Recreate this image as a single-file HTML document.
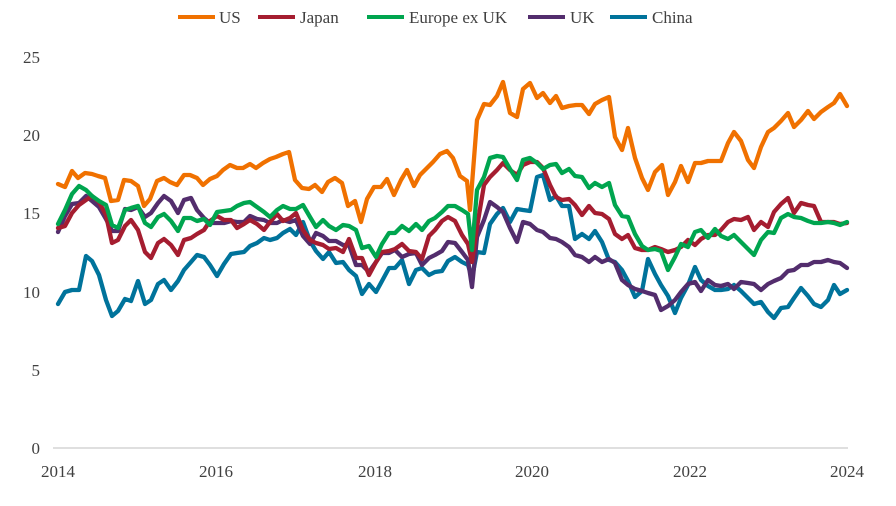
<!DOCTYPE html>
<html><head><meta charset="utf-8"><style>
body{margin:0;background:#fff}
svg text{font-family:"Liberation Serif","DejaVu Serif",serif;font-size:17px;fill:#404040}
polyline{fill:none;stroke-width:4.3;stroke-linejoin:round;stroke-linecap:round}
</style></head><body>
<svg width="896" height="501" viewBox="0 0 896 501" xmlns="http://www.w3.org/2000/svg">
<g>
<line x1="178" y1="17" x2="215" y2="17" stroke="#F07100" stroke-width="4"/><text x="219" y="23">US</text>
<line x1="258" y1="17" x2="295" y2="17" stroke="#A51D30" stroke-width="4"/><text x="300" y="23">Japan</text>
<line x1="367" y1="17" x2="404" y2="17" stroke="#00A54F" stroke-width="4"/><text x="409" y="23">Europe ex UK</text>
<line x1="528" y1="17" x2="565" y2="17" stroke="#532D6D" stroke-width="4"/><text x="570" y="23">UK</text>
<line x1="610" y1="17" x2="647" y2="17" stroke="#00739B" stroke-width="4"/><text x="652" y="23">China</text>
</g>
<g text-anchor="end">
<text x="40" y="454">0</text><text x="40" y="376">5</text><text x="40" y="298">10</text>
<text x="40" y="219">15</text><text x="40" y="141">20</text><text x="40" y="63">25</text>
</g>
<line x1="53" y1="448" x2="848" y2="448" stroke="#bfbfbf" stroke-width="1"/>
<g text-anchor="middle">
<text x="58" y="477">2014</text><text x="216" y="477">2016</text><text x="375" y="477">2018</text>
<text x="532" y="477">2020</text><text x="690" y="477">2022</text><text x="847" y="477">2024</text>
</g>
<polyline stroke="#00739B" points="58,304 65,292 72,290 79,290 86,256 92,261 99,275 106,300 112,316 118,311 125,299 131,301 138,281 145,304 151,300 158,284 164,280 171,290 178,281 184,270 191,262 197,255 204,257 210,265 217,276 224,264 231,254 237,253 244,252 250,246 257,243 264,238 270,240 277,238 283,233 290,229 296,235 303,222 310,241 316,251 323,259 329,252 336,263 343,262 349,270 356,276 362,294 369,284 376,292 382,281 389,268 395,268 402,260 409,284 416,270 422,268 429,275 435,272 442,271 448,261 455,257 462,262 468,265 472,278 477,252 484,253 490,224 497,214 503,208 510,222 517,209 523,210 530,211 537,177 543,175 550,200 556,196 562,206 569,206 575,239 582,234 589,239 595,231 602,242 609,260 615,262 622,270 628,281 635,297 642,291 648,259 655,274 661,285 668,296 675,313 681,298 688,285 695,267 701,280 708,286 715,290 721,290 728,289 734,285 741,291 748,298 754,304 761,302 768,312 774,318 781,308 788,307 794,298 801,288 808,296 814,304 821,307 828,300 834,285 840,294 847,290"/>
<polyline stroke="#532D6D" points="58,232 65,216 72,204 79,203 86,196 92,201 99,207 106,219 112,231 118,231 125,209 131,210 138,207 145,217 151,213 158,203 164,196 171,201 178,213 184,200 191,198 197,210 204,218 210,223 217,223 224,223 231,221 237,222 244,222 250,216 257,219 264,220 270,223 277,223 283,220 290,222 296,220 303,236 310,244 316,233 323,236 329,241 336,241 343,245 349,245 356,265 362,265 369,272 376,262 382,253 389,253 395,250 402,257 409,254 416,253 422,265 429,258 435,255 442,251 448,242 455,243 462,252 468,260 472,287 477,237 484,220 490,202 497,207 503,212 510,228 517,242 523,222 530,224 537,230 543,232 550,238 556,239 562,242 569,247 575,255 582,257 589,262 595,257 602,262 609,259 615,263 622,280 628,285 635,289 642,291 648,293 655,295 661,310 668,306 675,300 681,292 688,284 695,282 701,291 708,280 715,285 721,286 728,284 734,289 741,282 748,283 754,284 761,290 768,284 774,281 781,278 788,271 794,270 801,265 808,265 814,262 821,262 828,260 834,262 840,263 847,268"/>
<polyline stroke="#A51D30" points="58,228 65,226 72,213 79,205 86,200 92,196 99,202 106,215 112,243 118,240 125,226 131,220 138,230 145,252 151,258 158,243 164,239 171,245 178,255 184,240 191,238 197,234 204,230 210,221 217,216 224,220 231,220 237,228 244,224 250,220 257,224 264,230 270,222 277,214 283,221 290,218 296,213 303,230 310,240 316,243 323,245 329,249 336,248 343,252 349,239 356,258 362,258 369,275 376,262 382,252 389,251 395,249 402,244 409,251 416,252 422,259 429,236 435,230 442,221 448,217 455,221 462,235 468,244 472,262 477,227 484,185 490,177 497,170 503,163 510,170 517,175 523,165 530,162 537,162 543,168 550,185 556,197 562,200 569,199 575,205 582,215 589,206 595,213 602,214 609,219 615,234 622,239 628,235 635,248 642,250 648,250 655,247 661,249 668,252 675,250 681,247 688,240 695,245 701,239 708,235 715,235 721,230 728,222 734,219 741,220 748,217 754,230 761,222 768,227 774,212 781,204 788,198 794,213 801,203 808,205 814,206 821,222 828,222 834,222 840,224 847,223"/>
<polyline stroke="#00A54F" points="58,224 65,210 72,194 79,186 86,190 92,196 99,201 106,205 112,225 118,228 125,210 131,208 138,206 145,223 151,227 158,217 164,214 171,221 178,231 184,218 191,218 197,221 204,219 210,225 217,212 224,211 231,210 237,206 244,203 250,202 257,207 264,212 270,217 277,210 283,206 290,209 296,209 303,205 310,217 316,227 323,220 329,226 336,230 343,225 349,226 356,230 362,248 369,246 376,257 382,244 389,233 395,233 402,226 409,231 416,224 422,230 429,221 435,218 442,212 448,206 455,206 462,210 468,214 472,250 477,190 484,177 490,158 497,156 503,157 510,169 517,180 523,160 530,158 537,163 543,169 550,165 556,164 562,173 569,169 575,176 582,177 589,188 595,183 602,187 609,183 615,205 622,216 628,217 635,234 642,246 648,250 655,249 661,251 668,270 675,257 681,244 688,247 695,232 701,230 708,238 715,229 721,236 728,239 734,235 741,242 748,249 754,255 761,240 768,232 774,233 781,218 788,214 794,217 801,218 808,221 814,223 821,223 828,222 834,223 840,225 847,222"/>
<polyline stroke="#F07100" points="58,184 65,187 72,171 78,178 85,173 92,174 98,176 105,178 111,201 118,200 124,180 131,181 138,186 144,206 150,199 157,181 164,178 170,182 177,185 184,175 190,175 197,178 203,185 210,179 217,176 223,170 230,165 237,168 243,168 250,164 256,168 263,163 270,159 276,157 283,154 289,152 295,180 302,188 309,189 315,185 322,192 328,182 335,178 342,183 348,206 355,201 361,222 367,199 374,187 381,187 387,179 394,195 401,180 407,170 414,186 420,175 427,168 433,162 440,154 447,151 453,158 460,176 467,181 470,210 477,120 484,104 490,105 497,96 503,82 510,113 517,117 523,89 530,83 537,98 543,93 550,103 556,96 562,108 569,106 576,105 582,105 589,114 595,104 602,100 609,97 615,137 622,150 628,128 635,158 642,178 648,190 655,172 662,165 668,195 675,182 681,166 688,182 695,163 701,163 708,161 715,161 721,161 728,143 734,132 741,141 748,160 754,168 761,147 768,132 774,128 781,121 788,113 794,127 801,120 808,111 814,119 821,112 828,107 834,103 840,94 847,106"/>
</svg>
</body></html>
